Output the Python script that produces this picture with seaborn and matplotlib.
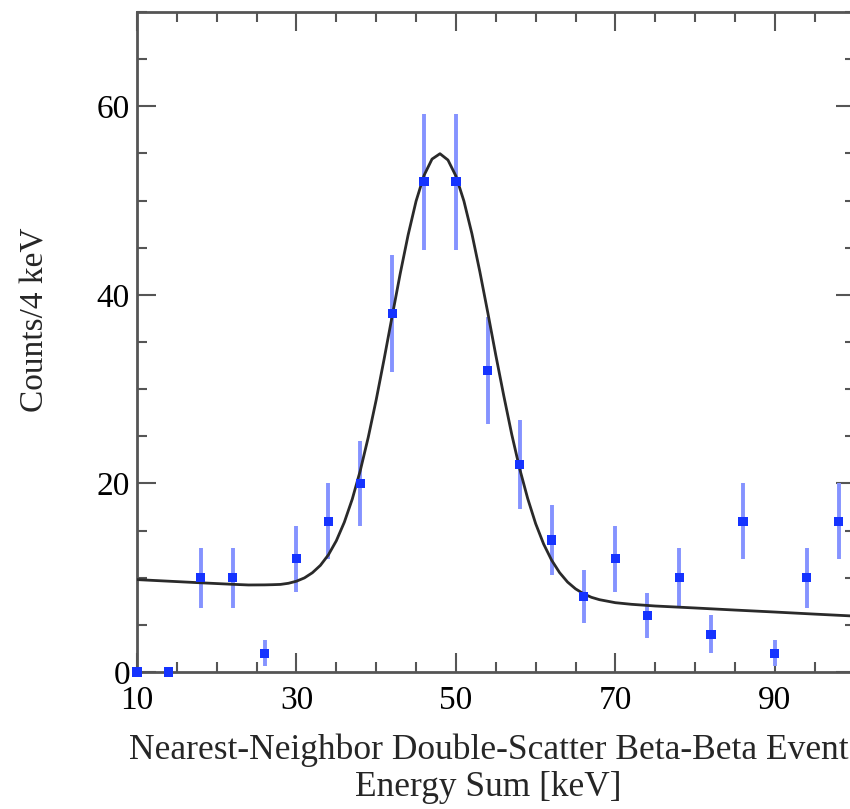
import matplotlib
matplotlib.use("Agg")
import matplotlib.pyplot as plt
import seaborn as sns
from matplotlib.ticker import FixedLocator, MultipleLocator

# Binned data (4 keV bins)
energy = [10, 14, 18, 22, 26, 30, 34, 38, 42, 46, 50, 54, 58, 62, 66, 70, 74, 78, 82, 86, 90, 94, 98]
counts = [0, 0, 10, 10, 2, 12, 16, 20, 38, 52, 52, 32, 22, 14, 8, 12, 6, 10, 4, 16, 2, 10, 16]
count_err = [0, 0, 3.2, 3.2, 1.4, 3.5, 4.0, 4.5, 6.2, 7.2, 7.2, 5.7, 4.7, 3.7, 2.8, 3.5, 2.4, 3.2, 2.0, 4.0, 1.4, 3.2, 4.0]

# Fit curve
fit_energy = [10, 14, 18, 22, 24, 26, 27, 28, 29, 30, 31, 32, 33, 34, 35, 36, 37, 38, 39, 40,
              41, 42, 43, 44, 45, 46, 47, 48, 49, 50, 51, 52, 53, 54, 55, 56, 57, 58, 59, 60,
              61, 62, 63, 64, 65, 66, 67, 68, 70, 72, 75, 80, 85, 90, 95, 100]
fit_counts = [9.80, 9.63, 9.46, 9.30, 9.23, 9.24, 9.26, 9.29, 9.41, 9.63, 9.98, 10.53, 11.31, 12.42,
              13.92, 15.88, 18.34, 21.35, 24.88, 28.87, 33.22, 37.73, 42.2, 46.34, 49.94, 52.67,
              54.4, 54.97, 54.3, 52.6, 49.95, 46.5, 42.45, 38.1, 33.6, 29.3, 25.2, 21.54, 18.4,
              15.73, 13.57, 11.86, 10.54, 9.54, 8.82, 8.3, 7.92, 7.67, 7.35, 7.18, 7.0, 6.79,
              6.57, 6.36, 6.14, 5.93]

x_ticks = [10, 30, 50, 70, 90]
y_ticks = [0, 20, 40, 60]
x_label = "Nearest-Neighbor Double-Scatter Beta-Beta Event\nEnergy Sum [keV]"
y_label = "Counts/4 keV"

sns.set_style("ticks")
plt.rcParams['font.family'] = ['Liberation Serif', 'DejaVu Serif']

W, H = 850, 809
fig = plt.figure(figsize=(W / 100, H / 100), dpi=100)
left_px, right_px, top_px, bot_px = 137, 854.6, 12, 672
ax = fig.add_axes([left_px / W, 1 - bot_px / H, (right_px - left_px) / W, (bot_px - top_px) / H])

ax.errorbar(energy, counts, yerr=count_err, fmt='none', ecolor='#8593ff',
            elinewidth=2.8, capsize=0, zorder=2)
sns.lineplot(x=fit_energy, y=fit_counts, color='#2a2a2a', lw=2, sort=False,
             estimator=None, ax=ax, zorder=3)
sns.scatterplot(x=energy, y=counts, marker='s', s=44, color='#1533ff',
                edgecolor='none', ax=ax, zorder=4, clip_on=False)

ax.set_xlim(10, 100)
ax.set_ylim(0, 70)
ax.xaxis.set_major_locator(FixedLocator(x_ticks))
ax.yaxis.set_major_locator(FixedLocator(y_ticks))
ax.xaxis.set_minor_locator(MultipleLocator(5))
ax.yaxis.set_minor_locator(MultipleLocator(5))
ax.tick_params(which='both', direction='in', top=True, right=True,
               width=1.5, color='#555555', labelsize=24, labelcolor='black')
ax.tick_params(which='major', length=14)
ax.tick_params(axis='x', which='major', pad=10)
ax.tick_params(axis='y', which='major', pad=5)
ax.tick_params(which='minor', length=7.5)
for sp in ax.spines.values():
    sp.set_linewidth(2)
    sp.set_color('#555555')
    sp.set_visible(True)

ax.set_xlabel(x_label, fontsize=25.5, linespacing=1.15, labelpad=10)
ax.xaxis.set_label_coords(0.49, -0.2)
ax.xaxis.label.set_va('bottom')
ax.set_ylabel(y_label, fontsize=24)
ax.yaxis.set_label_coords(-0.12, 0.533)

fig.savefig("out.png", dpi=100)
